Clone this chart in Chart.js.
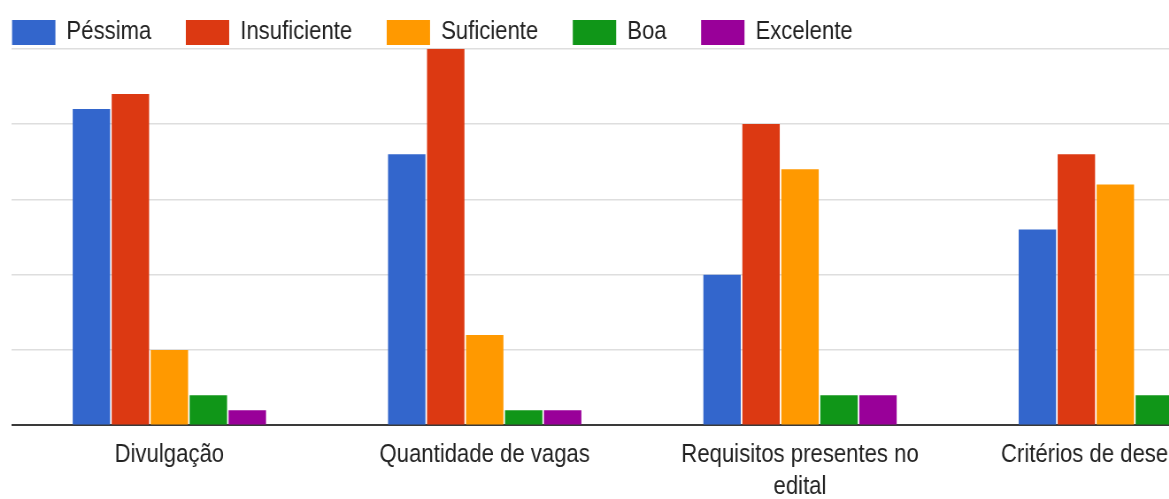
<!DOCTYPE html>
<html lang="pt-BR">
<head>
<meta charset="utf-8">
<title>Avaliação do processo seletivo</title>
<script src="https://cdn.jsdelivr.net/npm/chart.js@4.4.1/dist/chart.umd.min.js"></script>
<style>
  html, body { margin: 0; padding: 0; background: #ffffff; overflow: hidden; }
  #wrap {
    width: 1440px; height: 499px;
    transform: scaleX(0.885); transform-origin: 0 0;
  }
  canvas { display: block; }
</style>
</head>
<body>
<div id="wrap"><canvas id="chart" width="1440" height="499" style="width:1440px;height:499px"></canvas></div>
<script>
// Categorias avaliadas
const categories = [
  'Divulgação',
  'Quantidade de vagas',
  ['Requisitos presentes no', 'edital'],
  'Critérios de desempate'
];

// Número de respostas por conceito
const pessima      = [21, 18, 10, 13];
const insuficiente = [22, 25, 20, 18];
const suficiente   = [5, 6, 17, 16];
const boa          = [2, 1, 2, 2];
const excelente    = [1, 1, 2, 1];

const seriesNames  = ['Péssima', 'Insuficiente', 'Suficiente', 'Boa', 'Excelente'];
const seriesColors = ['#3366cc', '#dc3912', '#ff9900', '#109618', '#990099'];

// Escala vertical
const yMax = 25;
const yStep = 5;

const seriesValues = [pessima, insuficiente, suficiente, boa, excelente];
const datasets = seriesNames.map((name, i) => ({
  label: name,
  data: seriesValues[i],
  backgroundColor: seriesColors[i],
  borderWidth: 0,
  categoryPercentage: 0.618,
  barPercentage: 0.96
}));

const LEGEND_PAD = 39;

// Keeps the legend row tight at the top and places its first swatch at the left edge
const legendPlacement = {
  id: 'legendPlacement',
  beforeInit(chart) {
    const lg = chart.legend;
    const fit = lg.fit;
    lg.fit = function () {
      fit.call(this);
      this.height = 48.8;
    };
  },
  afterLayout(chart) {
    const lg = chart.legend;
    lg.left = 13.6 - LEGEND_PAD;
    lg.top = 20 - LEGEND_PAD;
  }
};

new Chart(document.getElementById('chart'), {
  type: 'bar',
  data: { labels: categories, datasets },
  plugins: [legendPlacement],
  options: {
    responsive: false,
    animation: false,
    layout: { padding: { left: 13.2, right: 1.6, top: 0, bottom: 0 } },
    plugins: {
      tooltip: { enabled: false },
      legend: {
        position: 'top',
        align: 'start',
        labels: {
          boxWidth: 49,
          boxHeight: 25,
          padding: LEGEND_PAD,
          color: '#222222',
          font: { family: '"Liberation Sans", Arial, sans-serif', size: 25 }
        }
      }
    },
    scales: {
      x: {
        grid: { display: false, drawTicks: false },
        border: { display: false },
        ticks: {
          autoSkip: false,
          maxRotation: 0,
          minRotation: 0,
          padding: 14,
          color: '#222222',
          font: { family: '"Liberation Sans", Arial, sans-serif', size: 25, lineHeight: 1.28 }
        },
        afterFit(scale) { scale.height = 73.6; }
      },
      y: {
        min: 0,
        max: yMax,
        ticks: { display: false, stepSize: yStep },
        border: { display: false },
        grid: {
          drawTicks: false,
          color: (ctx) => ctx.tick && ctx.tick.value === 0 ? '#3a3a3a' : '#dedede',
          lineWidth: (ctx) => ctx.tick && ctx.tick.value === 0 ? 2 : 1.5
        },
        afterFit(scale) { scale.width = 0; }
      }
    }
  }
});
</script>
</body>
</html>
